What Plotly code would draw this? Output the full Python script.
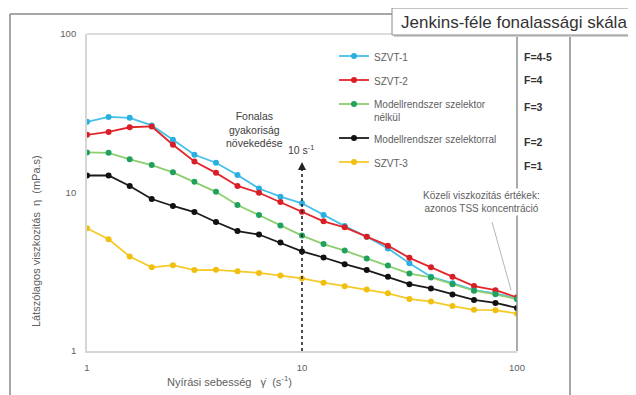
import math
import plotly.graph_objects as go

# ---------------- data ----------------
shear = [1, 1.26, 1.58, 2, 2.51, 3.16, 3.98, 5.01, 6.31, 7.94, 10,
         12.6, 15.8, 20, 25.1, 31.6, 39.8, 50.1, 63.1, 79.4, 100]

szvt1 = [27.9, 30.0, 29.6, 26.5, 21.5, 17.3, 15.4, 12.9, 10.6, 9.41, 8.55,
         7.21, 6.14, 5.26, 4.44, 3.58, 2.94, 2.68, 2.42, 2.31, 2.14]
szvt2 = [23.1, 24.1, 25.8, 26.1, 20.0, 15.7, 13.3, 11.0, 9.96, 8.71, 7.56,
         6.58, 6.03, 5.26, 4.62, 3.87, 3.37, 2.94, 2.57, 2.42, 2.18]
model_nelkul = [17.9, 17.8, 16.2, 14.9, 13.4, 11.7, 10.1, 8.34, 7.21, 6.19, 5.35,
                4.73, 4.30, 3.84, 3.46, 3.08, 2.91, 2.64, 2.40, 2.28, 2.12]
model_szel = [12.8, 12.8, 11.0, 9.10, 8.22, 7.53, 6.51, 5.71, 5.43, 4.83, 4.25,
              3.89, 3.53, 3.24, 2.94, 2.64, 2.48, 2.27, 2.10, 2.01, 1.87]
szvt3 = [5.94, 5.07, 3.95, 3.37, 3.48, 3.24, 3.25, 3.18, 3.11, 2.99, 2.87,
         2.70, 2.56, 2.44, 2.31, 2.13, 2.05, 1.92, 1.82, 1.81, 1.72]

series_names = ["SZVT-1", "SZVT-2", "Modellrendszer szelektor<br>nélkül",
                "Modellrendszer szelektorral", "SZVT-3"]
series_values = [szvt1, szvt2, model_nelkul, model_szel, szvt3]
f_labels = ["F=4-5", "F=4", "F=3", "F=2", "F=1"]

tick_vals = [1, 10, 100]
tick_text = ["1", "10", "100"]
ref_shear = 10          # dashed reference line at 10 s^-1
ref_arrow_top = 15.6    # top of the dashed arrow (viscosity scale)

# ---------------- styles ----------------
line_colors = ["#45c0ea", "#e3262c", "#8ccf6e", "#1a1a1a", "#f5cb2a"]
marker_colors = ["#2ab0e0", "#d81e26", "#20a25e", "#111111", "#f0bf10"]
FONT = "Liberation Sans, Arial, sans-serif"
TXT = "#606060"

OFF = 8  # page body margin of the html page
W, H = 636 - OFF, 395 - OFF
PL, PR, PT, PB = 87, 517, 34, 351   # plot area in screen pixels


def px_x(px):
    return (px - PL) / (PR - PL)


def px_y(py):
    return (PB - py) / (PB - PT)


fig = go.Figure()
for name, vals, lc, mc in zip(series_names, series_values, line_colors, marker_colors):
    fig.add_trace(go.Scatter(
        x=shear, y=vals, mode="lines+markers", name=name, legendgroup=name,
        line=dict(color=lc, width=1.8),
        marker=dict(color=mc, size=6),
    ))

shapes = []
frame = dict(type="line", xref="paper", yref="paper",
             line=dict(color="#8a8a8a", width=1.5))
# outer frame
shapes.append({**frame, "x0": px_x(10), "x1": px_x(10), "y0": px_y(400), "y1": px_y(14)})
shapes.append({**frame, "x0": px_x(10), "x1": px_x(395), "y0": px_y(14), "y1": px_y(14)})
shapes.append({**frame, "x0": px_x(570), "x1": px_x(570), "y0": px_y(400), "y1": px_y(35)})
# plot top and right border
shapes.append(dict(type="line", xref="paper", yref="paper", x0=0, x1=px_x(395), y0=1, y1=1,
                   line=dict(color="#bcbcbc", width=1.2)))
shapes.append(dict(type="line", xref="paper", yref="paper", x0=1, x1=1, y0=0, y1=1,
                   line=dict(color="#8f8f8f", width=1.5)))
# title box with shadow
shapes.append(dict(type="rect", xref="paper", yref="paper", x0=px_x(394), x1=px_x(645),
                   y0=px_y(37), y1=px_y(10), line=dict(width=0), fillcolor="#d0d0d0"))
shapes.append(dict(type="rect", xref="paper", yref="paper", x0=px_x(392), x1=px_x(645),
                   y0=px_y(35), y1=px_y(8), line=dict(color="#8a8a8a", width=1),
                   fillcolor="white"))
# dashed reference line
shapes.append(dict(type="line", xref="x", yref="y", x0=ref_shear, x1=ref_shear,
                   y0=1, y1=ref_arrow_top * 0.93,
                   line=dict(color="#222222", width=1.6, dash="3px,3px"), layer="above"))
# pointer line of the "Közeli..." note
shapes.append(dict(type="line", xref="paper", yref="paper", x0=px_x(492), y0=px_y(222),
                   x1=px_x(511), y1=px_y(290), line=dict(color="#b5b5b5", width=1)))

ann = []
ann.append(dict(text="Jenkins-féle fonalassági skála", xref="paper", yref="paper",
                x=px_x(399), y=px_y(22), xanchor="left", yanchor="middle", showarrow=False,
                font=dict(family=FONT, size=17, color="#333333")))
f_rows = [57, 80, 107, 142, 166]
for lab, ry in zip(f_labels, f_rows):
    ann.append(dict(text="<b>" + lab + "</b>", xref="paper", yref="paper",
                    x=px_x(522), y=px_y(ry), xanchor="left", yanchor="middle",
                    showarrow=False, font=dict(family=FONT, size=10.5, color="#333333")))
ann.append(dict(text="Fonalas<br>gyakoriság<br>növekedése", xref="paper", yref="paper",
                x=px_x(254), y=px_y(129), xanchor="center", yanchor="middle", showarrow=False,
                font=dict(family=FONT, size=10.5, color="#404040")))
ann.append(dict(text="10 s<sup>-1</sup>", xref="paper", yref="paper",
                x=px_x(301), y=px_y(149), xanchor="center", yanchor="middle", showarrow=False,
                font=dict(family=FONT, size=10.5, color="#404040")))
# arrow head on top of the dashed line (annotations use log10 on log axes)
ann.append(dict(text="", x=math.log10(ref_shear), y=math.log10(ref_arrow_top),
                xref="x", yref="y", showarrow=True, arrowhead=2, arrowsize=1,
                arrowwidth=1.6, arrowcolor="#222222", ax=0, ay=10))
ann.append(dict(text="Közeli viszkozitás értékek:<br>azonos TSS koncentráció",
                xref="paper", yref="paper", x=px_x(481), y=px_y(202),
                xanchor="center", yanchor="middle", showarrow=False, bgcolor="white",
                font=dict(family=FONT, size=10, color=TXT)))
ann.append(dict(text="Látszólagos viszkozitás  η  (mPa.s)", xref="paper", yref="paper",
                x=px_x(36), y=px_y(241), textangle=-90, xanchor="center", yanchor="middle",
                showarrow=False, font=dict(family=FONT, size=11, color=TXT)))
ann.append(dict(text="Nyírási sebesség   γ̇  (s<sup>-1</sup>)", xref="paper", yref="paper",
                x=px_x(229), y=px_y(381), xanchor="center", yanchor="middle",
                showarrow=False, font=dict(family=FONT, size=11, color=TXT)))

axis_common = dict(type="log", range=[0, 2], tickvals=tick_vals, ticktext=tick_text,
                   showgrid=False, zeroline=False, showline=True, linecolor="#d6d6d6",
                   linewidth=1.8, ticks="", tickfont=dict(family=FONT, size=9.5, color=TXT))

fig.update_layout(
    width=W, height=H,
    margin=dict(l=PL - OFF, r=W - (PR - OFF), t=PT - OFF, b=H - (PB - OFF), pad=0),
    paper_bgcolor="white", plot_bgcolor="white",
    xaxis=dict(**axis_common, ticklabelstandoff=7),
    yaxis=dict(**axis_common, ticklabelstandoff=7),
    showlegend=True,
    legend=dict(x=px_x(334), y=px_y(43), xanchor="left", yanchor="top",
                bgcolor="rgba(0,0,0,0)", font=dict(family=FONT, size=10, color=TXT),
                tracegroupgap=5, itemwidth=30, valign="top"),
    shapes=shapes, annotations=ann,
)

fig.write_html("out.html")
